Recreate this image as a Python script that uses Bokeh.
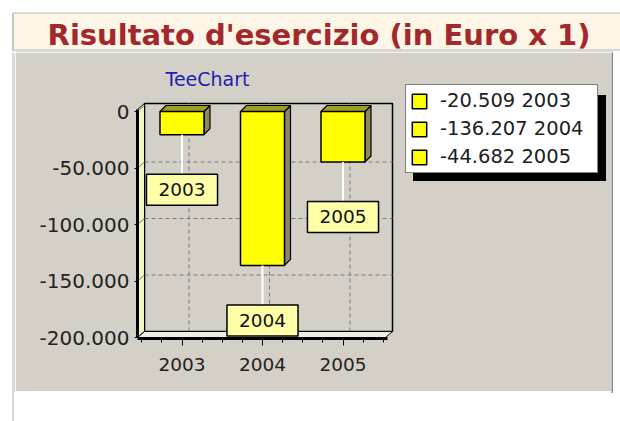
from bokeh.plotting import figure
from bokeh.models import Range1d, FixedTicker, Legend, LegendItem
from bokeh.layouts import column, row
from bokeh.core.properties import value
from bokeh.embed import file_html
from bokeh.resources import INLINE

# ---------------- data ----------------
years = [2003, 2004, 2005]
results = [-20509, -136207, -44682]
bar_labels = ["2003", "2004", "2005"]
legend_labels = ["-20.509 2003", "-136.207 2004", "-44.682 2005"]
y_ticks = [0, -50000, -100000, -150000, -200000]
y_tick_labels = ["0", "-50.000", "-100.000", "-150.000", "-200.000"]
x_tick_labels = ["2003", "2004", "2005"]
page_title = "Risultato d'esercizio (in Euro x 1)"
chart_title = "TeeChart"

PANEL = "#d4d0c8"
FONT = "DejaVu Sans"
EDGE = "#b4b4b4"
DARK_EDGE = "#8a8a8a"


def bare(fig, color="white"):
    fig.grid.visible = False
    fig.outline_line_color = None
    fig.background_fill_color = color
    fig.border_fill_color = color
    return fig


def deco(w, h, xr, yr):
    return figure(width=w, height=h, x_range=Range1d(*xr), y_range=Range1d(*yr),
                  output_backend="svg", toolbar_location=None, min_border=0,
                  x_axis_location=None, y_axis_location=None)


# ---------------- banner (page title) ----------------
tf = bare(deco(620, 52, (0, 620), (52, 0)))
tf.quad(left=[12.5], right=[625], top=[12.5], bottom=[49.5],
        fill_color="#fdf5e6", line_color=EDGE, line_width=1)
tf.segment(x0=[12.5, 14.5, 14.5], y0=[12.5, 51.5, 51.5], x1=[12.5, 14.5, 613], y1=[52, 52, 51.5],
           line_color=EDGE)
tf.text(x=[318.5], y=[34.5], text=[page_title], text_font=value(FONT),
        text_font_style="bold", text_font_size="29px", text_color="#a3282b",
        text_align="center", text_baseline="middle")

# ---------------- left page border strip ----------------
sf = bare(deco(15, 369, (0, 15), (369, 0)))
sf.segment(x0=[12.5, 14.5], y0=[0, 0], x1=[12.5, 14.5], y1=[369, 340], line_color=EDGE)

# ---------------- chart ----------------
PX_X = 80.5                 # pixels per year
PX_Y = 226.0 / 200000.0     # pixels per euro
X_REF, PX_REF = 2003, 181.5   # page pixel of the 2003 category
Y0_PX = 111.0                 # page pixel of value 0


def px2x(px):
    return X_REF + (px - PX_REF) / PX_X


def px2y(py):
    return (Y0_PX - py) / PX_Y


x0r, x1r = px2x(137), px2x(611)
y0r, y1r = px2y(338), px2y(56)

DX = 7 / PX_X
DY = 6 / PX_Y
BX = 6 / PX_X
BY = 6 / PX_Y
HW = 22 / PX_X

p = figure(width=596, height=339, x_range=Range1d(x0r, x1r), y_range=Range1d(y0r, y1r),
           output_backend="svg", toolbar_location=None, title=None,
           min_border_left=122, min_border_right=0, min_border_top=4, min_border_bottom=53)
p.background_fill_color = PANEL
p.border_fill_color = PANEL
p.outline_line_color = PANEL
p.outline_line_width = 2
p.xgrid.grid_line_color = None
p.ygrid.grid_line_color = None

ymin = y_ticks[-1]
wall_top = px2y(103)
wall_right = px2x(392)

# back wall
p.quad(left=[x0r + DX], right=[wall_right], top=[wall_top], bottom=[ymin + DY],
       fill_color=PANEL, line_color="black", line_width=1.5)

# dashed grid on back wall
inner = y_ticks[1:-1]
p.segment(x0=[x0r + DX] * len(inner), y0=[t + DY for t in inner],
          x1=[wall_right] * len(inner), y1=[t + DY for t in inner],
          line_color="#7a7a7a", line_dash="4 3", line_width=1)
p.segment(x0=[yr + DX for yr in years], y0=[ymin + DY] * len(years),
          x1=[yr + DX for yr in years], y1=[wall_top] * len(years),
          line_color="#7a7a7a", line_dash="4 3", line_width=1)

# left wall
p.patch(x=[x0r, x0r, x0r + DX, x0r + DX],
        y=[ymin, wall_top - DY, wall_top, ymin + DY],
        fill_color="#f6f6c0", line_color="black", line_width=1)
p.segment(x0=[x0r] * len(y_ticks), y0=y_ticks, x1=[x0r + DX] * len(y_ticks),
          y1=[t + DY for t in y_ticks], line_color="#7a7a7a", line_width=1)

# floor
p.patch(x=[x0r, wall_right - DX, wall_right, x0r + DX],
        y=[ymin, ymin, ymin + DY, ymin + DY],
        fill_color="#eeeee6", line_color="black", line_width=1)

# bars (3D)
lefts = [yr - HW for yr in years]
rights = [yr + HW for yr in years]
side_xs = [[r, r + BX, r + BX, r] for r in rights]
side_ys = [[0, BY, v + BY, v] for v in results]
top_xs = [[l, l + BX, r + BX, r] for l, r in zip(lefts, rights)]
top_ys = [[0, BY, BY, 0] for _ in results]
p.patches(xs=side_xs, ys=side_ys, fill_color="#8a8a5a", line_color="black", line_width=1.2)
p.patches(xs=top_xs, ys=top_ys, fill_color="#a0a020", line_color="black", line_width=1.2)
front = p.quad(left=lefts, right=rights, top=[0] * len(years), bottom=results,
               fill_color="#ffff00", line_color="black", line_width=1.5)

# leader lines + marks
p.segment(x0=years, y0=results, x1=years, y1=[v - 40 / PX_Y for v in results],
          line_color="white", line_width=2)
p.text(x=years, y=results, text=bar_labels, y_offset=55,
       text_font=value(FONT), text_font_size="18.5px", text_color="#111111",
       text_align="center", text_baseline="middle",
       background_fill_color="#ffffa8", border_line_color="black", border_line_width=1.5,
       padding=(12, 9))

# chart title
p.text(x=[px2x(165)], y=[px2y(78)], text=[chart_title], text_font=value(FONT),
       text_font_size="19px", text_color="#1e1eb4", text_align="left", text_baseline="middle")

# axes
p.yaxis.ticker = FixedTicker(ticks=y_ticks)
p.yaxis.major_label_overrides = dict(zip(y_ticks, y_tick_labels))
p.yaxis.bounds = (ymin, wall_top - DY)
p.yaxis.axis_line_width = 3
p.yaxis.axis_line_color = "black"
p.yaxis.major_tick_out = 3
p.yaxis.major_tick_in = 0
p.yaxis.minor_tick_out = 0
p.yaxis.minor_tick_in = 0
p.yaxis.major_label_standoff = 5
p.yaxis.major_label_text_font = FONT
p.yaxis.major_label_text_font_size = "20px"
p.yaxis.major_label_text_color = "#222222"

minor = [2002.5, 2002.75, 2003.25, 2003.5, 2003.75, 2004.25, 2004.5, 2004.75, 2005.25, 2005.5]
p.xaxis.ticker = FixedTicker(ticks=years, minor_ticks=minor)
p.xaxis.major_label_overrides = dict(zip(years, x_tick_labels))
p.xaxis.bounds = (x0r, px2x(387))
p.xaxis.axis_line_width = 3
p.xaxis.axis_line_color = "black"
p.xaxis.major_tick_out = 7
p.xaxis.major_tick_in = 0
p.xaxis.minor_tick_out = 4
p.xaxis.minor_tick_in = 0
p.xaxis.major_label_standoff = 12
p.xaxis.major_label_text_font = FONT
p.xaxis.major_label_text_font_size = "18.5px"
p.xaxis.major_label_text_color = "#222222"

# legend with drop shadow
shadow_r = p.quad(left=[], right=[], top=[], bottom=[], fill_color="black", line_color="black")
common = dict(label_text_font=FONT, label_text_font_size="19.5px", glyph_width=18, glyph_height=18,
              label_height=22, label_width=153, label_standoff=12, spacing=5, padding=4, margin=0,
              border_line_width=1.5, background_fill_alpha=1)
shadow = Legend(items=[LegendItem(label=value(" "), renderers=[shadow_r]) for _ in legend_labels],
                location=(276, 157), background_fill_color="black", border_line_color="black",
                label_text_color="black", **common)
leg = Legend(items=[LegendItem(label=value(t), renderers=[front], index=i)
                    for i, t in enumerate(legend_labels)],
             location=(268, 165), background_fill_color="white", border_line_color="black",
             label_text_color="#202020", **common)
p.add_layout(shadow)
p.add_layout(leg)

# shadow edges of the chart panel
bf = bare(deco(596, 2, (0, 1), (0, 1)), DARK_EDGE)
rf = bare(deco(2, 341, (0, 1), (0, 1)), DARK_EDGE)

layout = column(tf, row(sf, column(p, bf), rf))
open("out.html", "w").write(file_html(layout, INLINE))
